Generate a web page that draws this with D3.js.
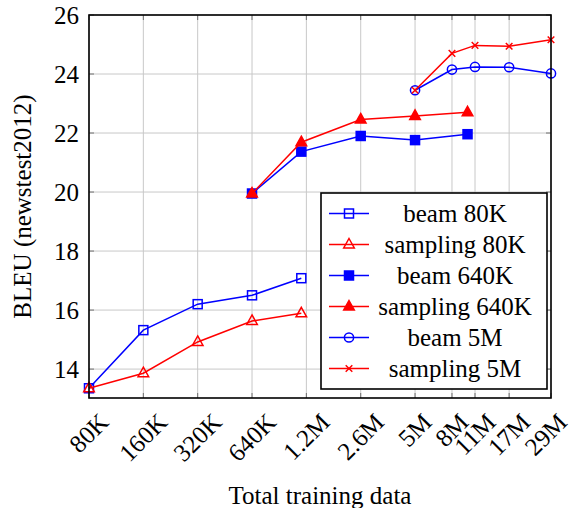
<!DOCTYPE html>
<html>
<head>
<meta charset="utf-8">
<script src="https://cdn.jsdelivr.net/npm/d3@7"></script>
<style>
  body { margin: 0; background: #fff; }
  text { font-family: "Liberation Serif", "Times New Roman", serif; }
</style>
</head>
<body>
<svg id="chart" width="573" height="508"></svg>
<script>
"use strict";

    // data

var xs80K  = [80e3, 160e3, 320e3, 640e3, 1.2e6];
var beam80K = [13.35, 15.32, 16.2, 16.5, 17.08];
var samp80K = [13.35, 13.86, 14.92, 15.63, 15.89];

var xs640K  = [640e3, 1.2e6, 2.56e6, 5.12e6, 10e6];
var beam640K = [19.95, 21.37, 21.9, 21.76, 21.96];
var samp640K = [19.95, 21.69, 22.46, 22.58, 22.7];

var xs5M  = [5.12e6, 8.2e6, 11e6, 17e6, 29e6];
var beam5M = [23.45, 24.15, 24.24, 24.23, 24.02];
var samp5M = [23.45, 24.7, 24.97, 24.94, 25.16];

var xTickValues = [80e3, 160e3, 320e3, 640e3, 1.28e6, 2.56e6, 5.12e6, 8.2e6, 11e6, 17e6, 29e6];
var xTickLabels = ["80K", "160K", "320K", "640K", "1.2M", "2.6M", "5M", "8M", "11M", "17M", "29M"];
var yTickValues = [14, 16, 18, 20, 22, 24, 26];

var seriesNames = ["beam 80K", "sampling 80K", "beam 640K", "sampling 640K", "beam 5M", "sampling 5M"];


    // layout

var plotLeft = 89, plotRight = 551, plotTop = 15, plotBottom = 398;

var x = d3.scaleLog().domain([80e3, 29e6]).range([plotLeft, plotRight]);
var y = d3.scaleLinear().domain([13.02, 26]).range([plotBottom, plotTop]);

var svg = d3.select("#chart");


    // markers, drawn around (0,0)

function mark(g, kind, color) {

    if (kind === "sq" || kind === "sqf") {
        g.append("rect")
            .attr("x", -4.5).attr("y", -4.5)
            .attr("width", 9).attr("height", 9)
            .attr("fill", kind === "sqf" ? color : "white")
            .attr("fill-opacity", kind === "sqf" ? 1 : 0)
            .attr("stroke", color)
            .attr("stroke-width", 1.5);
    }
    if (kind === "tri" || kind === "trif") {
        g.append("path")
            .attr("d", "M0,-6 L5.3,3.5 L-5.3,3.5 Z")
            .attr("fill", kind === "trif" ? color : "white")
            .attr("fill-opacity", kind === "trif" ? 1 : 0)
            .attr("stroke", color)
            .attr("stroke-width", 1.5);
    }
    if (kind === "circ") {
        g.append("circle")
            .attr("r", 4.6)
            .attr("fill", "none")
            .attr("stroke", color)
            .attr("stroke-width", 1.5);
    }
    if (kind === "x") {
        g.append("path")
            .attr("d", "M-3.3,-3.3 L3.3,3.3 M-3.3,3.3 L3.3,-3.3")
            .attr("stroke", color)
            .attr("stroke-width", 1.5);
    }
}


var series = [
    { name: seriesNames[0], xs: xs80K,  ys: beam80K,  color: "#0000ff", kind: "sq" },
    { name: seriesNames[1], xs: xs80K,  ys: samp80K,  color: "#ff0000", kind: "tri" },
    { name: seriesNames[2], xs: xs640K, ys: beam640K, color: "#0000ff", kind: "sqf" },
    { name: seriesNames[3], xs: xs640K, ys: samp640K, color: "#ff0000", kind: "trif" },
    { name: seriesNames[4], xs: xs5M,   ys: beam5M,   color: "#0000ff", kind: "circ" },
    { name: seriesNames[5], xs: xs5M,   ys: samp5M,   color: "#ff0000", kind: "x" }
];


    // grid

var grid = svg.append("g");

grid.selectAll(".gx")
    .data(xTickValues)
    .enter()
        .append("line")
            .attr("x1", function (d) { return x(d); })
            .attr("x2", function (d) { return x(d); })
            .attr("y1", plotTop)
            .attr("y2", plotBottom)
            .attr("stroke", "#c8c8c8")
            .attr("stroke-width", 1);

grid.selectAll(".gy")
    .data(yTickValues)
    .enter()
        .append("line")
            .attr("x1", plotLeft)
            .attr("x2", plotRight)
            .attr("y1", function (d) { return y(d); })
            .attr("y2", function (d) { return y(d); })
            .attr("stroke", "#c8c8c8")
            .attr("stroke-width", 1);


    // tick marks, inside, on all four sides

var ticks = svg.append("g").attr("stroke", "#555").attr("stroke-width", 0.8);

xTickValues.forEach(function (d) {
    ticks.append("line").attr("x1", x(d)).attr("x2", x(d)).attr("y1", plotBottom).attr("y2", plotBottom - 5);
    ticks.append("line").attr("x1", x(d)).attr("x2", x(d)).attr("y1", plotTop).attr("y2", plotTop + 5);
});

yTickValues.forEach(function (d) {
    ticks.append("line").attr("x1", plotLeft).attr("x2", plotLeft + 5).attr("y1", y(d)).attr("y2", y(d));
    ticks.append("line").attr("x1", plotRight).attr("x2", plotRight - 5).attr("y1", y(d)).attr("y2", y(d));
});


    // lines and marks

var line = d3.line()
    .x(function (d) { return x(d[0]); })
    .y(function (d) { return y(d[1]); });

series.forEach(function (s) {

    var pts = d3.zip(s.xs, s.ys);

    svg.append("path")
        .datum(pts)
        .attr("d", line)
        .attr("fill", "none")
        .attr("stroke", s.color)
        .attr("stroke-width", 1.5);

    pts.forEach(function (p) {
        var g = svg.append("g")
            .attr("transform", "translate(" + x(p[0]) + "," + y(p[1]) + ")");
        mark(g, s.kind, s.color);
    });
});


    // axis box

svg.append("rect")
    .attr("x", plotLeft)
    .attr("y", plotTop)
    .attr("width", plotRight - plotLeft)
    .attr("height", plotBottom - plotTop)
    .attr("fill", "none")
    .attr("stroke", "black")
    .attr("stroke-width", 1.6);


    // tick labels

svg.append("g")
    .selectAll("text")
    .data(yTickValues)
    .enter()
        .append("text")
            .attr("x", 79)
            .attr("y", function (d) { return y(d); })
            .attr("dy", "0.35em")
            .attr("text-anchor", "end")
            .attr("font-size", 25)
            .text(function (d) { return d; });

    // x labels: rotated, centred under the tick, top of the ink at ~412
    // (the last one is nudged in so it stays inside the picture)

svg.append("g")
    .selectAll("text")
    .data(xTickValues)
    .enter()
        .append("text")
            .attr("text-anchor", "middle")
            .attr("dy", "0.33em")
            .attr("font-size", 25)
            .text(function (d, i) { return xTickLabels[i]; })
            .each(function (d) {
                var w = this.getComputedTextLength();
                var half = 0.354 * (w + 16.5);
                var cx = x(d);
                var el = d3.select(this);
                el.attr("transform", "translate(" + cx + "," + (412 + half) + ") rotate(-45)");
                var over = this.getBoundingClientRect().right - 572;
                if (over > 0) {
                    el.attr("transform", "translate(" + (cx - over) + "," + (412 + half) + ") rotate(-45)");
                }
            });


    // axis titles

svg.append("text")
    .attr("x", (plotLeft + plotRight) / 2)
    .attr("y", 504)
    .attr("text-anchor", "middle")
    .attr("font-size", 25)
    .text("Total training data");

svg.append("text")
    .attr("transform", "translate(31," + ((plotTop + plotBottom) / 2) + ") rotate(-90)")
    .attr("text-anchor", "middle")
    .attr("font-size", 25)
    .text("BLEU (newstest2012)");


    // legend

var legend = svg.append("g");

legend.append("rect")
    .attr("x", 321)
    .attr("y", 193)
    .attr("width", 226)
    .attr("height", 196)
    .attr("fill", "white")
    .attr("stroke", "black")
    .attr("stroke-width", 1.6);

series.forEach(function (s, i) {

    var ly = 213.5 + i * 31;

    legend.append("line")
        .attr("x1", 329)
        .attr("x2", 369)
        .attr("y1", ly)
        .attr("y2", ly)
        .attr("stroke", s.color)
        .attr("stroke-width", 1.5);

    var g = legend.append("g").attr("transform", "translate(349," + ly + ")");
    mark(g, s.kind, s.color);

    legend.append("text")
        .attr("x", 455)
        .attr("y", ly)
        .attr("dy", "0.33em")
        .attr("text-anchor", "middle")
        .attr("font-size", 25)
        .text(s.name);
});

</script>
</body>
</html>
